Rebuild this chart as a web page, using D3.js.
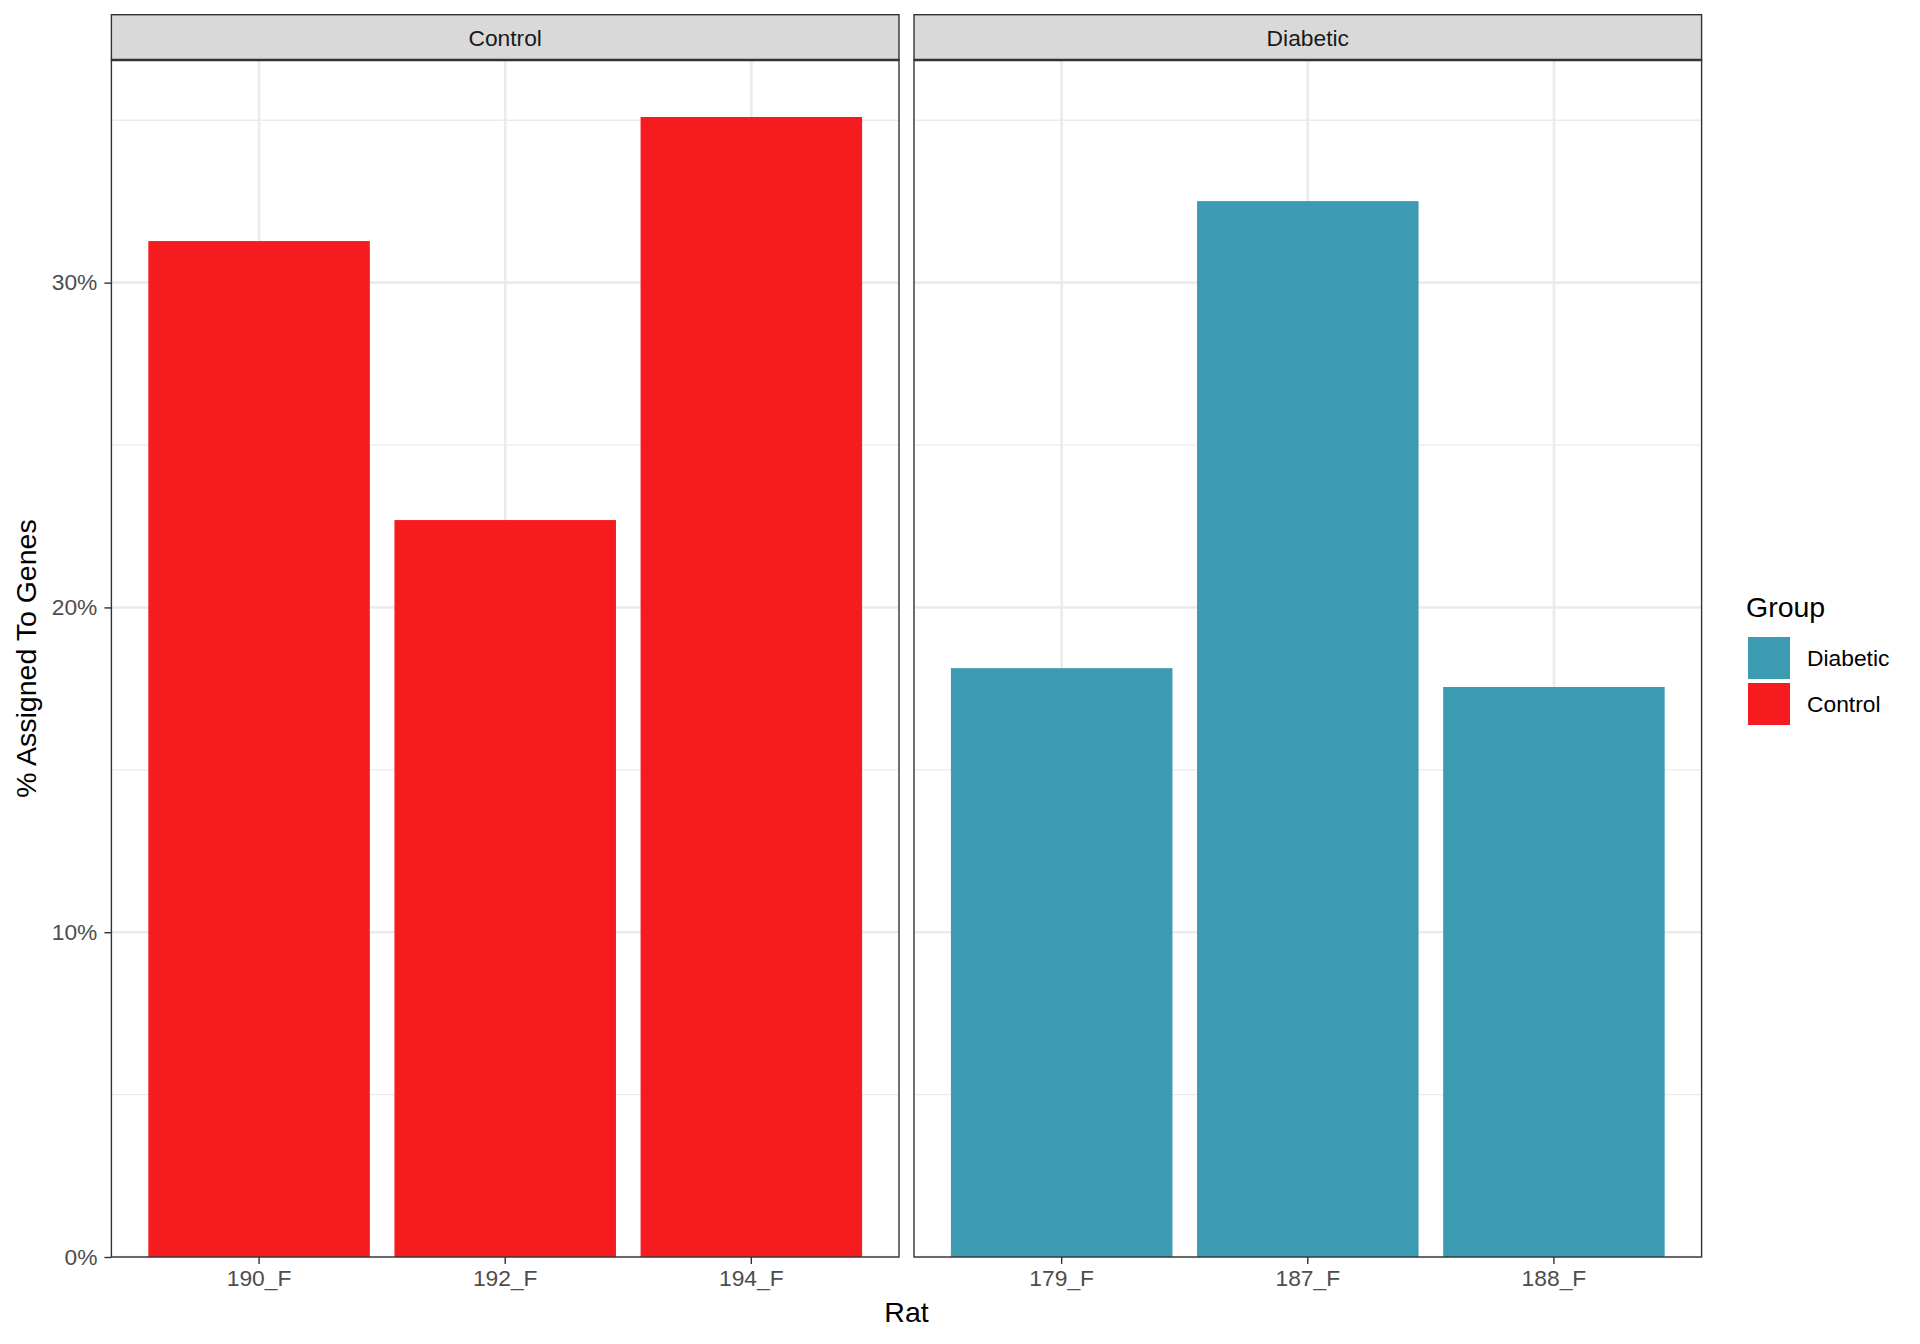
<!DOCTYPE html>
<html>
<head>
<meta charset="utf-8">
<script src="https://cdn.jsdelivr.net/npm/d3@7"></script>
<style>
  html, body { margin: 0; padding: 0; background: #fff; }
  svg { display: block; font-family: "Liberation Sans", Arial, Helvetica, sans-serif; }
</style>
</head>
<body>
<svg id="chart" width="1920" height="1344"></svg>
<script>
// ---- data ----
const panels = ["Control", "Diabetic"];
const controlRats = ["190_F", "192_F", "194_F"];
const controlValues = [31.28, 22.69, 35.10];
const diabeticRats = ["179_F", "187_F", "188_F"];
const diabeticValues = [18.13, 32.51, 17.55];
const yTicks = [0, 10, 20, 30];
const yMinorTicks = [5, 15, 25, 35];
const legendGroups = ["Diabetic", "Control"];
const groupColors = { Control: "#F51B1E", Diabetic: "#3C9AB2" };

const panelData = [
  { name: "Control", rats: controlRats, values: controlValues },
  { name: "Diabetic", rats: diabeticRats, values: diabeticValues }
];

// ---- layout ----
const svg = d3.select("#chart");
const panelTop = 60, panelBottom = 1257, stripTop = 14.7;
const panelX = [[111.4, 899], [914, 1701.6]];
const smallFont = 22.8, bigFont = 28.5;

const maxVal = d3.max(controlValues.concat(diabeticValues));
const y = d3.scaleLinear().domain([0, maxVal * 1.05]).range([panelBottom, panelTop]);

panelData.forEach((p, i) => {
  const [x0, x1] = panelX[i];
  const x = d3.scaleBand().domain(p.rats).range([x0, x1]).paddingInner(0.1).paddingOuter(0.15);
  const g = svg.append("g");

  g.append("rect").attr("x", x0).attr("y", panelTop).attr("width", x1 - x0).attr("height", panelBottom - panelTop).attr("fill", "#fff");

  g.selectAll(".minor").data(yMinorTicks).join("line")
    .attr("x1", x0).attr("x2", x1).attr("y1", d => y(d)).attr("y2", d => y(d))
    .attr("stroke", "#EBEBEB").attr("stroke-width", 1.3);
  g.selectAll(".major").data(yTicks).join("line")
    .attr("x1", x0).attr("x2", x1).attr("y1", d => y(d)).attr("y2", d => y(d))
    .attr("stroke", "#EBEBEB").attr("stroke-width", 2.6);
  g.selectAll(".majorx").data(p.rats).join("line")
    .attr("x1", d => x(d) + x.bandwidth() / 2).attr("x2", d => x(d) + x.bandwidth() / 2)
    .attr("y1", panelTop).attr("y2", panelBottom)
    .attr("stroke", "#EBEBEB").attr("stroke-width", 2.6);

  g.selectAll(".bar").data(p.rats.map((r, k) => ({ r, v: p.values[k] }))).join("rect")
    .attr("x", d => x(d.r)).attr("width", x.bandwidth())
    .attr("y", d => y(d.v)).attr("height", d => y(0) - y(d.v))
    .attr("fill", groupColors[p.name]);

  g.append("rect").attr("x", x0).attr("y", panelTop).attr("width", x1 - x0).attr("height", panelBottom - panelTop)
    .attr("fill", "none").attr("stroke", "#333333").attr("stroke-width", 1.4);

  g.append("rect").attr("x", x0).attr("y", stripTop).attr("width", x1 - x0).attr("height", panelTop - stripTop)
    .attr("fill", "#D9D9D9").attr("stroke", "#333333").attr("stroke-width", 1.4);
  g.append("line").attr("x1", x0).attr("x2", x1).attr("y1", panelTop).attr("y2", panelTop)
    .attr("stroke", "#333333").attr("stroke-width", 2.4);
  g.append("text").attr("x", (x0 + x1) / 2).attr("y", (stripTop + panelTop) / 2)
    .attr("dy", "0.36em").attr("text-anchor", "middle").attr("font-size", smallFont).attr("fill", "#1A1A1A")
    .text(p.name);

  const xAxis = d3.axisBottom(x).tickSize(7).tickPadding(6);
  const ax = g.append("g").attr("transform", `translate(0,${panelBottom})`).call(xAxis);
  ax.select(".domain").remove();
  ax.selectAll(".tick line").attr("stroke", "#333333").attr("stroke-width", 1.4);
  ax.selectAll(".tick text").attr("font-size", smallFont).attr("fill", "#4D4D4D")
    .attr("font-family", "Liberation Sans, Arial, sans-serif");

  if (i === 0) {
    const yAxis = d3.axisLeft(y).tickValues(yTicks).tickFormat(d => d + "%").tickSize(7).tickPadding(7);
    const ay = g.append("g").attr("transform", `translate(${x0},0)`).call(yAxis);
    ay.select(".domain").remove();
    ay.selectAll(".tick line").attr("stroke", "#333333").attr("stroke-width", 1.4);
    ay.selectAll(".tick text").attr("font-size", smallFont).attr("fill", "#4D4D4D")
      .attr("font-family", "Liberation Sans, Arial, sans-serif");
  }
});

svg.append("text").attr("x", (panelX[0][0] + panelX[1][1]) / 2).attr("y", 1322)
  .attr("text-anchor", "middle").attr("font-size", bigFont).attr("fill", "#000").text("Rat");
svg.append("text").attr("transform", `translate(36,${(panelTop + panelBottom) / 2}) rotate(-90)`)
  .attr("text-anchor", "middle").attr("font-size", bigFont).attr("fill", "#000").text("% Assigned To Genes");

const lg = svg.append("g");
lg.append("text").attr("x", 1746).attr("y", 617).attr("font-size", bigFont).attr("fill", "#000").text("Group");
legendGroups.forEach((grp, k) => {
  const top = 637 + k * 46;
  lg.append("rect").attr("x", 1748).attr("y", top).attr("width", 42).attr("height", 42).attr("fill", groupColors[grp]);
  lg.append("text").attr("x", 1807).attr("y", top + 21).attr("dy", "0.36em")
    .attr("font-size", smallFont).attr("fill", "#000").text(grp);
});
</script>
</body>
</html>
